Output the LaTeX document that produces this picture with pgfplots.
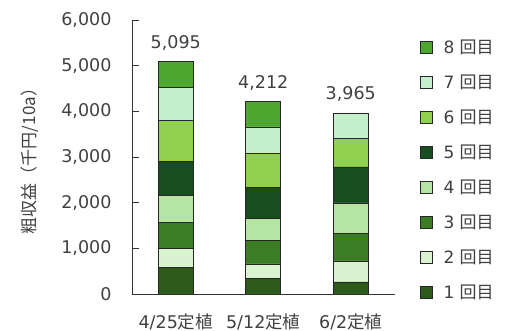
\documentclass[border=0pt]{standalone}
\usepackage{pgfplots}
\pgfplotsset{compat=1.18}
\usepackage{fontspec}
\setmainfont{DejaVu Sans}
\newfontfamily\cjk{Noto Sans CJK JP}
\definecolor{c1}{HTML}{2B5A1A}
\definecolor{c2}{HTML}{DAF2D0}
\definecolor{c3}{HTML}{3B7D23}
\definecolor{c4}{HTML}{B4E5A2}
\definecolor{c5}{HTML}{174D1F}
\definecolor{c6}{HTML}{92D050}
\definecolor{c7}{HTML}{C4F0CC}
\definecolor{c8}{HTML}{4EA72E}
\definecolor{txt}{HTML}{404040}
\pgfplotsset{
  common/.style={
    at={(132pt,37pt)}, anchor=south west,
    scale only axis, width=262.5pt, height=274pt,
    xmin=-0.5, xmax=2.5, ymin=0, ymax=6000,
    bar width=35pt,
    /pgf/number format/assume math mode=true,
    /pgf/number format/1000 sep={,},
    /pgf/number format/fixed,
  }
}
\begin{document}
\begin{tikzpicture}
\path[use as bounding box] (0pt,0pt) rectangle (512pt,331pt);
\begin{axis}[
  common,
  ybar stacked,
  axis x line=bottom, axis y line=left,
  axis line style={-, draw=black!80, line width=0.8pt},
  xtick={0,1,2},
  xticklabels={4/25{\cjk 定植}, 5/12{\cjk 定植}, 6/2{\cjk 定植}},
  major x tick style={draw=none},
  ytick={0,1000,...,6000},
  tick align=inside, major tick length=7pt,
  major y tick style={draw=black!80, line width=0.8pt},
  scaled y ticks=false,
  yticklabel style={xshift=-17pt},
  xticklabel style={yshift=-16pt},
  tick label style={font=\fontsize{17.5}{17.5}\selectfont, text=txt},
  ylabel={\cjk 粗収益（千円/10a）},
  every axis y label/.style={at={(axis description cs:-0.389,0.5)}, rotate=90, anchor=center, font=\fontsize{17}{17}\selectfont, text=txt},
  every axis plot/.append style={draw=black!85, line width=0.8pt},
  legend image code/.code={\draw[#1, draw=black!85, line width=0.8pt] (0pt,-6pt) rectangle (12pt,6pt);},
  reverse legend,
  legend style={at={(axis description cs:1,1)}, anchor=north west, xshift=25pt, yshift=-18.5pt,
    draw=none, fill=none, inner sep=0pt, row sep=18pt, font=\fontsize{17}{17}\selectfont, text=txt,
    nodes={inner sep=1pt}},
  legend cell align=left,
  /tikz/every odd column/.append style={column sep=10pt},
]
\addplot[fill=c1] coordinates {(0,591) (1,350) (2,263)};
\addplot[fill=c2] coordinates {(0,416) (1,307) (2,460)};
\addplot[fill=c3] coordinates {(0,562) (1,518) (2,598)};
\addplot[fill=c4] coordinates {(0,592) (1,482) (2,672)};
\addplot[fill=c5] coordinates {(0,744) (1,671) (2,788)};
\addplot[fill=c6] coordinates {(0,898) (1,745) (2,628)};
\addplot[fill=c7] coordinates {(0,723) (1,584) (2,556)};
\addplot[fill=c8] coordinates {(0,569) (1,555) (2,0)};
\legend{1 {\cjk 回目}, 2 {\cjk 回目}, 3 {\cjk 回目}, 4 {\cjk 回目}, 5 {\cjk 回目}, 6 {\cjk 回目}, 7 {\cjk 回目}, 8 {\cjk 回目}}
\end{axis}
\begin{axis}[
  common, ybar, hide axis,
  nodes near coords,
  every node near coord/.style={anchor=base, yshift=13pt, font=\fontsize{17.5}{17.5}\selectfont, text=txt},
]
\addplot[draw=none, fill=none] coordinates {(0,5095) (1,4212) (2,3965)};
\end{axis}
\end{tikzpicture}
\end{document}
